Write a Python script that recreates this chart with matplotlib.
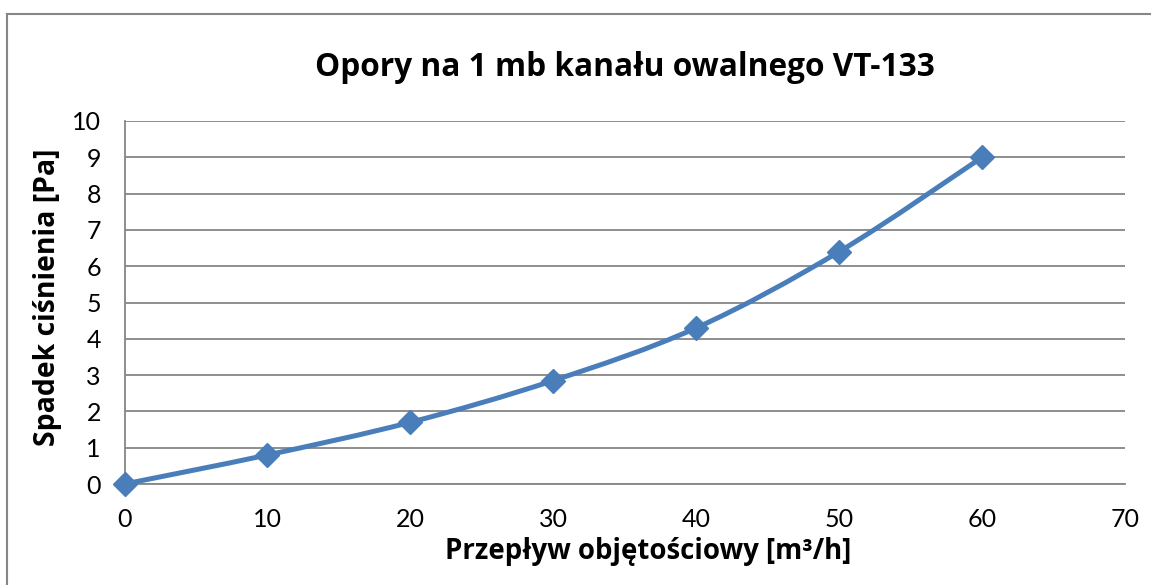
import numpy as np
import matplotlib.pyplot as plt
from matplotlib.path import Path
from matplotlib.patches import PathPatch
from matplotlib.lines import Line2D

plt.rcParams['font.family'] = ['Lato', 'DejaVu Sans']

# data
flow = [0, 10, 20, 30, 40, 50, 60]
dp = [0, 0.8, 1.7, 2.85, 4.3, 6.4, 9.0]

title = 'Opory na 1 mb kanału owalnego VT-133'
xlabel = 'Przepływ objętościowy [m³/h]'
ylabel = 'Spadek ciśnienia [Pa]'

blue = '#4A7EBB'
grey = '#868686'
bold_font = ['Open Sans', 'DejaVu Sans']

fig = plt.figure(figsize=(11.51, 5.85), dpi=100)
ax = fig.add_axes([124.5 / 1151, 1 - 484 / 585, (1125 - 124.5) / 1151, (484 - 121) / 585])

# smoothed line like excel (catmull-rom as cubic bezier)
pts = np.column_stack([flow, dp]).astype(float)
ext = np.vstack([pts[0], pts, pts[-1]])
verts = [tuple(pts[0])]
codes = [Path.MOVETO]
for i in range(1, len(ext) - 2):
    p0, p1, p2, p3 = ext[i - 1], ext[i], ext[i + 1], ext[i + 2]
    c1 = p1 + (p2 - p0) / 6
    c2 = p2 - (p3 - p1) / 6
    verts += [tuple(c1), tuple(c2), tuple(p2)]
    codes += [Path.CURVE4] * 3
ax.add_patch(PathPatch(Path(verts, codes), fill=False, edgecolor=blue, lw=3.6,
                       capstyle='round', joinstyle='round', zorder=3, clip_on=False))
ax.plot(flow, dp, linestyle='none', marker='D', ms=12, color=blue, zorder=4, clip_on=False)

ax.set_xlim(0, 70)
ax.set_ylim(0, 10)
ax.set_xticks(range(0, 71, 10))
ax.set_yticks(range(0, 11, 1))
ax.tick_params(length=0, labelsize=18, pad=17)
ax.tick_params(axis='x', pad=17)
ax.grid(axis='y', color=grey, lw=1.3)
ax.set_axisbelow(True)
for s in ['top', 'right']:
    ax.spines[s].set_visible(False)
for s in ['left', 'bottom']:
    ax.spines[s].set_color(grey)
    ax.spines[s].set_linewidth(1.3)

fig.text(0.543, 0.884, title, ha='center', va='center', fontsize=22.8, fontweight='bold', family=bold_font)
fig.text(0.563, 0.058, xlabel, ha='center', va='center', fontsize=19.9, fontweight='bold', family=bold_font)
fig.text(0.041, 0.492, ylabel, ha='center', va='center', rotation=90, fontsize=20.4, fontweight='bold', family=bold_font)

# chart border (cropped at right and bottom)
fig.add_artist(Line2D([7.5 / 1151, 7.5 / 1151], [0, 1 - 13.5 / 585], color=grey, lw=1.5))
fig.add_artist(Line2D([7.5 / 1151, 1], [1 - 13.5 / 585, 1 - 13.5 / 585], color=grey, lw=1.5))

fig.savefig('out.png', dpi=100)
